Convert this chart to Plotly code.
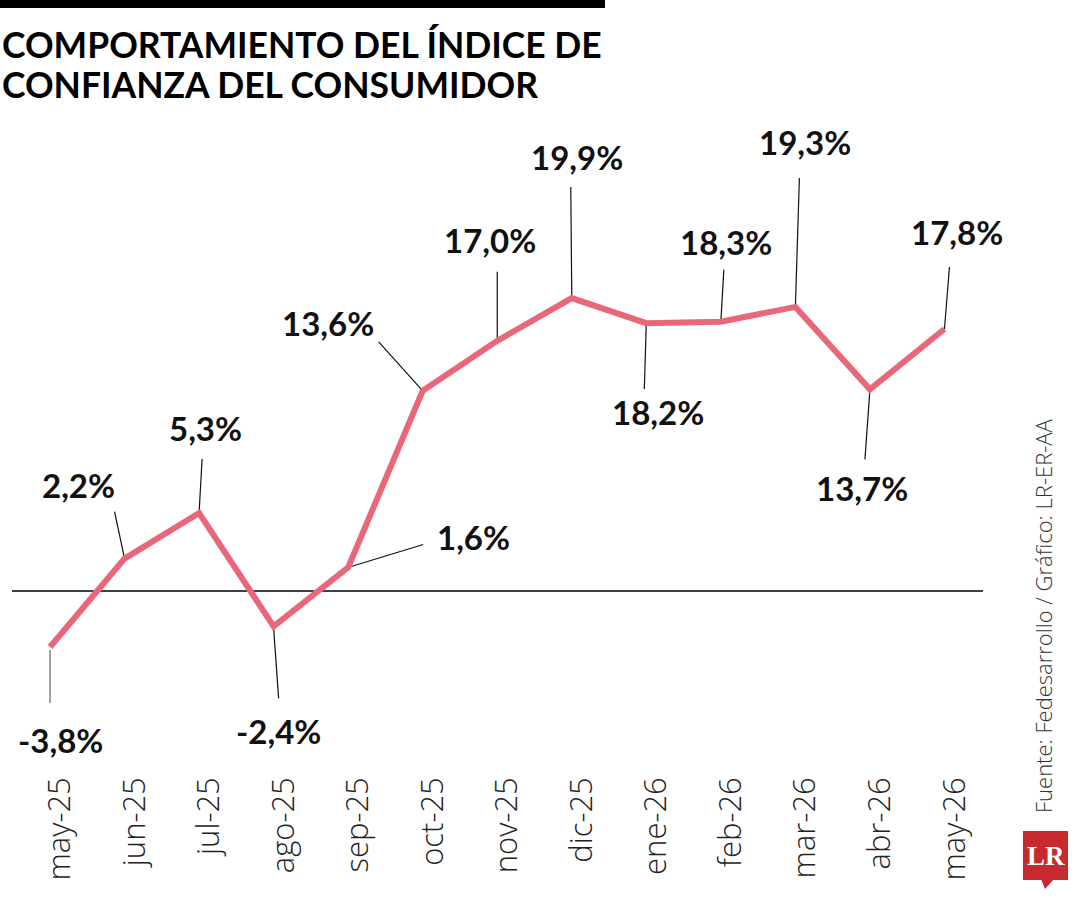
import plotly.graph_objects as go

# ---- data ----
months = ["may-25", "jun-25", "jul-25", "ago-25", "sep-25", "oct-25", "nov-25",
          "dic-25", "ene-26", "feb-26", "mar-26", "abr-26", "may-26"]
values = [-3.8, 2.2, 5.3, -2.4, 1.6, 13.6, 17.0, 19.9, 18.2, 18.3, 19.3, 13.7, 17.8]
value_labels = ["-3,8%", "2,2%", "5,3%", "-2,4%", "1,6%", "13,6%", "17,0%",
                "19,9%", "18,2%", "18,3%", "19,3%", "13,7%", "17,8%"]

title_lines = ["COMPORTAMIENTO DEL ÍNDICE DE", "CONFIANZA DEL CONSUMIDOR"]
source_text = "Fuente: Fedesarrollo / Gráfico: LR-ER-AA"

# ---- label placement (pixel offsets from each point: label centre, leader line) ----
label_off = [(10, -93), (-46, 74), (6, 85), (5, -105), (125, 30), (-95, 68), (-7, 101),
             (5, 141), (12, -89), (5, 80), (10, 165), (-8, -99), (13, 97)]
leader = [((0, -3), (0, -56)), ((0, 0), (-10, 47)), ((0, 0), (3, 54)), ((0, -2), (5, -72)),
          ((3, 1), (75, 23)), ((0, 0), (-44, 49)), ((0, 0), (0, 69)), ((0, 0), (-1, 111)),
          ((0, 0), (-2, -66)), ((0, 0), (3, 52)), ((0, 0), (4, 129)), ((0, 0), (-5, -70)),
          ((0, 0), (5, 62))]

LINE_COLOR = "#e8687a"
FONT_BOLD = "Lato"
FONT_LIGHT = "Open Sans"

# plot area in page pixels
L, R, T, B = 12, 983, 120, 770
W, H = 1080, 900
pw, ph = R - L, B - T

fig = go.Figure()
xs = list(range(len(months)))
fig.add_trace(go.Scatter(
    x=xs, y=values, mode="lines",
    line=dict(color=LINE_COLOR, width=6),
    hoverinfo="skip", showlegend=False, cliponaxis=False,
))

shapes = []
annotations = []

# zero line
shapes.append(dict(type="line", xref="paper", yref="y", x0=0, x1=1, y0=0, y1=0,
                   line=dict(color="black", width=1.3), layer="below"))

for i, (v, lab) in enumerate(zip(values, value_labels)):
    (sx0, sy0), (sx1, sy1) = leader[i]
    shapes.append(dict(type="line", xref="x", yref="y", xsizemode="pixel", ysizemode="pixel",
                       xanchor=i, yanchor=v, x0=sx0, x1=sx1, y0=sy0, y1=sy1,
                       line=dict(color="#666666" if i == 0 else "#111111", width=1.2),
                       layer="below"))
    dx, dy = label_off[i]
    annotations.append(dict(x=i, y=v, xref="x", yref="y", text=lab, showarrow=False,
                            xshift=dx, yshift=dy, xanchor="center", yanchor="middle",
                            font=dict(family=FONT_BOLD, size=33, color="#111111", weight="bold")))

# helpers for paper coords from page pixels
def px2paper_x(px):
    return (px - L) / pw

def px2paper_y(py):
    return 1 - (py - T) / ph

# title (two lines, tight leading)
for k, (line, ypx) in enumerate(zip(title_lines, [45, 84])):
    annotations.append(dict(xref="paper", yref="paper", x=px2paper_x(0), y=px2paper_y(ypx),
                            text=line, showarrow=False, xanchor="left", yanchor="middle",
                            font=dict(family=FONT_BOLD, size=35.5, color="black", weight="bold")))

# top black bar
shapes.append(dict(type="rect", xref="paper", yref="paper",
                   x0=px2paper_x(0), x1=px2paper_x(605), y0=px2paper_y(0), y1=px2paper_y(8),
                   fillcolor="black", line=dict(width=0)))

# LR logo
shapes.append(dict(type="rect", xref="paper", yref="paper",
                   x0=px2paper_x(1023), x1=px2paper_x(1068), y0=px2paper_y(831), y1=px2paper_y(880),
                   fillcolor="#c62a2f", line=dict(width=0)))
shapes.append(dict(type="path", xref="paper", yref="paper",
                   path="M {} {} L {} {} L {} {} Z".format(
                       px2paper_x(1041), px2paper_y(879), px2paper_x(1054), px2paper_y(879),
                       px2paper_x(1045), px2paper_y(889)),
                   fillcolor="#c62a2f", line=dict(width=0)))
annotations.append(dict(xref="paper", yref="paper", x=px2paper_x(1045.5), y=px2paper_y(856),
                        text="<b>LR</b>", showarrow=False, xanchor="center", yanchor="middle",
                        font=dict(family="Liberation Serif", size=27, color="white")))

# source text (vertical)
annotations.append(dict(xref="paper", yref="paper", x=px2paper_x(1043), y=px2paper_y(616),
                        text=source_text, showarrow=False, textangle=-90,
                        xanchor="center", yanchor="middle",
                        font=dict(family=FONT_LIGHT, size=22, color="#333333", weight=300)))

fig.update_layout(
    width=W, height=H,
    margin=dict(l=L, r=W - R, t=T, b=H - B, pad=0),
    paper_bgcolor="white", plot_bgcolor="white",
    xaxis=dict(range=[-0.51, 12.517], showgrid=False, zeroline=False, showline=False,
               tickmode="array", tickvals=xs, ticktext=months, tickangle=-90,
               ticks="", ticklabelshift=10, ticklabelstandoff=0,
               tickfont=dict(family=FONT_LIGHT, size=31, color="#222222", weight=300)),
    yaxis=dict(range=[-12.16, 32.0], showgrid=False, zeroline=False, showline=False,
               showticklabels=False, ticks=""),
    shapes=shapes, annotations=annotations,
    showlegend=False,
)

fig.write_html("out.html")
